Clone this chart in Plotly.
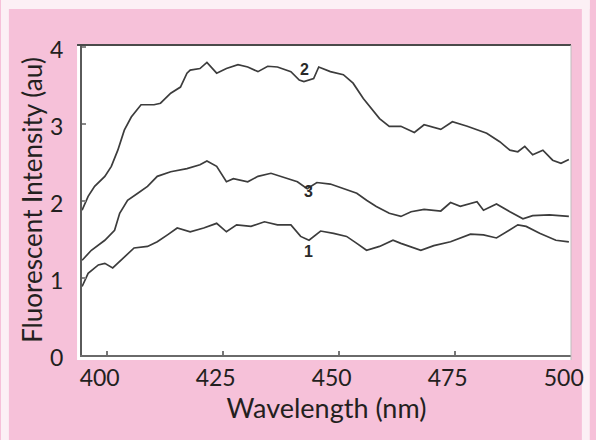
import plotly.graph_objects as go

# ---- data ----
wl_2 = [394.7, 396.0, 397.4, 399.6, 401.0, 402.4, 403.8, 405.3, 407.4, 410.2, 411.6, 413.8,
        415.9, 417.3, 418.0, 420.1, 421.6, 423.7, 425.8, 428.3, 430.4, 432.6, 434.7, 436.8,
        439.7, 441.5, 442.5, 444.6, 445.7, 448.2, 451.0, 453.1, 455.3, 456.7, 458.8, 460.9,
        463.4, 466.3, 468.4, 472.0, 474.5, 477.7, 481.9, 484.7, 486.9, 488.6, 490.1, 491.8,
        494.0, 496.1, 497.9, 499.6]
int_2 = [1.88, 2.06, 2.19, 2.32, 2.45, 2.66, 2.92, 3.09, 3.25, 3.25, 3.27, 3.40,
         3.48, 3.66, 3.70, 3.72, 3.80, 3.66, 3.72, 3.77, 3.74, 3.68, 3.75, 3.74,
         3.68, 3.57, 3.55, 3.59, 3.74, 3.68, 3.64, 3.53, 3.33, 3.22, 3.07, 2.97,
         2.97, 2.89, 2.99, 2.93, 3.03, 2.97, 2.88, 2.77, 2.66, 2.64, 2.71, 2.60,
         2.66, 2.53, 2.49, 2.54]

wl_3 = [394.7, 396.7, 399.6, 401.7, 402.8, 404.5, 406.7, 408.8, 410.9, 413.8, 417.3, 420.1,
        421.6, 423.7, 425.8, 427.3, 430.4, 432.6, 435.4, 438.2, 441.1, 443.2, 445.3, 448.2,
        451.0, 453.9, 456.0, 458.1, 460.9, 463.4, 465.6, 468.4, 472.0, 474.1, 476.2, 479.8,
        481.2, 484.0, 486.9, 489.7, 491.8, 495.4, 499.6]
int_3 = [1.23, 1.36, 1.49, 1.62, 1.84, 2.01, 2.10, 2.19, 2.32, 2.38, 2.42, 2.47,
         2.52, 2.45, 2.25, 2.29, 2.25, 2.32, 2.36, 2.31, 2.25, 2.16, 2.24, 2.22,
         2.16, 2.10, 2.01, 1.93, 1.84, 1.80, 1.86, 1.89, 1.87, 1.98, 1.93, 1.99,
         1.88, 1.96, 1.86, 1.77, 1.81, 1.82, 1.80]

wl_1 = [394.7, 396.0, 398.2, 399.6, 401.3, 403.1, 404.5, 405.9, 408.8, 410.9, 413.1, 415.2,
        418.0, 420.9, 423.7, 425.8, 428.0, 431.1, 434.0, 436.8, 439.7, 441.8, 443.6, 446.1,
        448.9, 451.7, 453.9, 456.0, 458.8, 461.7, 463.4, 465.6, 467.7, 470.5, 474.1, 478.4,
        481.2, 484.0, 486.2, 488.6, 490.4, 493.3, 496.8, 499.6]
int_1 = [0.89, 1.06, 1.17, 1.19, 1.13, 1.23, 1.32, 1.39, 1.41, 1.47, 1.56, 1.65,
         1.60, 1.65, 1.71, 1.60, 1.69, 1.67, 1.73, 1.69, 1.69, 1.54, 1.49, 1.61,
         1.58, 1.54, 1.45, 1.36, 1.41, 1.49, 1.45, 1.40, 1.36, 1.42, 1.47, 1.57,
         1.56, 1.52, 1.60, 1.69, 1.67, 1.58, 1.49, 1.47]

curve_labels = ["1", "2", "3"]
label_x = [443.4, 442.7, 443.4]
label_y = [1.35, 3.71, 2.12]

x_ticks = [400, 425, 450, 475, 500]
y_ticks = [0, 1, 2, 3, 4]

# ---- style ----
PINK = "#F6C1D9"
OUTER = "#FCF0F5"
TEXT = "#231F20"
LINE = "#3c3c3c"
FONT = "Lato, 'Open Sans', sans-serif"

fig = go.Figure()
for wl, it in [(wl_1, int_1), (wl_2, int_2), (wl_3, int_3)]:
    fig.add_trace(go.Scatter(x=wl, y=it, mode="lines",
                             line=dict(color=LINE, width=1.7),
                             showlegend=False, hoverinfo="skip"))

for t, lx, ly in zip(curve_labels, label_x, label_y):
    fig.add_annotation(x=lx, y=ly, text="<b>" + t + "</b>", showarrow=False,
                       font=dict(family="Arial, 'Liberation Sans'", size=16, color="#2a2a2a"))

W, H = 596, 440
L, R, T, B = 82, 19, 45, 85
pw, ph = W - L - R, H - T - B

def px_x(p):
    return (p - L) / pw

def px_y(p):
    return (H - B - p) / ph

shapes = [
    dict(type="rect", xref="paper", yref="paper", x0=px_x(0), x1=px_x(W), y0=px_y(0), y1=px_y(9),
         fillcolor=OUTER, line=dict(width=0), layer="below"),
    dict(type="rect", xref="paper", yref="paper", x0=px_x(0), x1=px_x(8), y0=px_y(H), y1=px_y(0),
         fillcolor=OUTER, line=dict(width=0), layer="below"),
    dict(type="rect", xref="paper", yref="paper", x0=px_x(588), x1=px_x(W), y0=px_y(H), y1=px_y(0),
         fillcolor=OUTER, line=dict(width=0), layer="below"),
    dict(type="rect", xref="paper", yref="paper", x0=px_x(77), x1=1, y0=px_y(360), y1=1,
         fillcolor="white", line=dict(width=0), layer="below"),
    dict(type="line", xref="paper", yref="paper", x0=px_x(77), x1=1, y0=1, y1=1,
         line=dict(color="#4a4a4a", width=2)),
    dict(type="line", xref="paper", yref="paper", x0=1, x1=1, y0=px_y(360), y1=1,
         line=dict(color="#bdbdbd", width=1)),
]

fig.update_layout(
    width=W, height=H,
    margin=dict(l=L, r=R, t=T, b=B, pad=0),
    paper_bgcolor=PINK, plot_bgcolor="white",
    font=dict(family=FONT, color=TEXT, size=22),
    shapes=shapes,
    xaxis=dict(range=[394.68, 500.06], tickmode="array", tickvals=x_ticks,
               ticktext=[str(v) for v in x_ticks],
               showgrid=False, zeroline=False, showline=True, linecolor="#6a6a6a", linewidth=1.5,
               ticks="inside", ticklen=4, tickcolor="#777", tickwidth=1.5,
               ticklabelshift=-7, ticklabelstandoff=2,
               tickfont=dict(size=23, color=TEXT),
               title=dict(text="Wavelength (nm)", font=dict(size=27, color=TEXT), standoff=0)),
    yaxis=dict(range=[0, 4.026], tickmode="array", tickvals=y_ticks,
               ticktext=[str(v) for v in y_ticks],
               showgrid=False, zeroline=False, showline=True, linecolor="#5a5a5a", linewidth=2,
               ticks="inside", ticklen=4, tickcolor="#888", tickwidth=1.5,
               ticklabelstandoff=12, ticklabelshift=3,
               tickfont=dict(size=23, color=TEXT),
               title=dict(text="Fluorescent Intensity (au)", font=dict(size=26, color=TEXT), standoff=0)),
)

fig.write_html("out.html")
